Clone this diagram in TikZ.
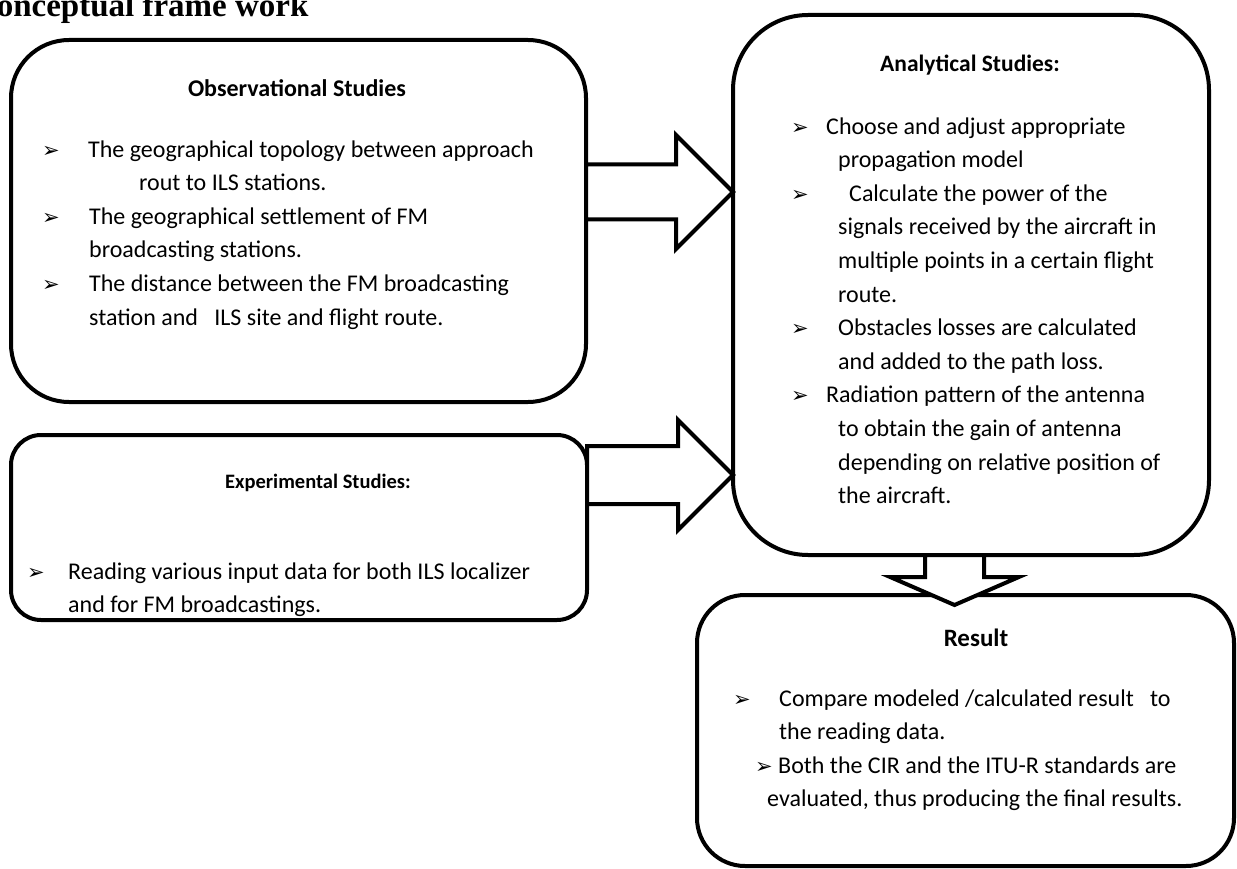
\documentclass[tikz,border=0pt]{standalone}
\usepackage{fontspec}
\setmainfont{Carlito}
\newfontfamily\headfont{Liberation Serif}
\newfontfamily\symfont{DejaVu Sans}
\usetikzlibrary{shapes.arrows,calc,positioning}
\newcommand\itm[1]{\makebox[#1][l]{\symfont\fontsize{21}{21}\selectfont ➢}}

\begin{document}
\begin{tikzpicture}[x=1pt,y=-1pt,
        panel/.style={draw,line width=4pt,inner sep=0pt,outer sep=0pt},
        heading/.style={font=\bfseries\fontsize{#1}{#1}\selectfont},
        list/.style={anchor=base west,align=left,inner sep=0pt,
                     font=\fontsize{24}{33.6}\selectfont},
        blockarr/.style={single arrow,draw,fill=white,line width=4pt,
                         inner xsep=0pt,outer sep=0pt,single arrow head indent=0pt}]
  \useasboundingbox (0,0) rectangle (1237,869);
  \node[anchor=base east,font=\headfont\bfseries\fontsize{33}{33}\selectfont] (title) at (312,17) {Conceptual frame work};
  \node[panel,minimum width=575pt,minimum height=362pt,rounded corners=58pt] (obs) at (298.5,221) {};
  \node[panel,minimum width=576pt,minimum height=185pt,rounded corners=30pt] (exp) at (299,527.5) {};
  \node[panel,minimum width=476pt,minimum height=540pt,rounded corners=75pt] (ana) at (971,285) {};
  \node[panel,minimum width=537pt,minimum height=271pt,rounded corners=48pt] (res) at (965.5,730.5) {};

  \node[heading=24] (obsT) at (297,88) {Observational Studies};
  \node[list] (obsL) at (42,325) {\itm{46pt}The geographical topology between approach\\
      \hspace*{97pt}rout to ILS stations.\\
      \itm{47pt}The geographical settlement of FM\\
      \hspace*{47pt}broadcasting stations.\\
      \itm{47pt}The distance between the FM broadcasting\\
      \hspace*{47pt}station and\ \ \ ILS site and flight route.};

  \node[heading=20.5] (expT) at (318,483) {Experimental Studies:};
  \node[list] (expL) at (27,612.6) {\itm{41pt}Reading various input data for both ILS localizer\\
      \hspace*{41pt}and for FM broadcastings.};

  \node[heading=23.5] (anaT) at (970,65) {Analytical Studies:};
  \node[list] (anaL) at (791,503.6) {\itm{35pt}Choose and adjust appropriate\\
      \hspace*{47pt}propagation model\\
      \itm{58pt}Calculate the power of the\\
      \hspace*{47pt}signals received by the aircraft in\\
      \hspace*{47pt}multiple points in a certain flight\\
      \hspace*{47pt}route.\\
      \itm{47pt}Obstacles losses are calculated\\
      \hspace*{47pt}and added to the path loss.\\
      \itm{35pt}Radiation pattern of the antenna\\
      \hspace*{47pt}to obtain the gain of antenna\\
      \hspace*{47pt}depending on relative position of\\
      \hspace*{47pt}the aircraft.};

  \node[heading=25] (resT) at (976,638) {Result};
  \node[list] (resL) at (733,806.8) {\itm{46pt}Compare modeled /calculated result\ \ \ to\\
      \hspace*{46pt}the reading data.\\
      \hspace*{22pt}\itm{23pt}Both the CIR and the ITU-R standards are\\
      \hspace*{34pt}evaluated, thus producing the final results.};

  \node[blockarr,inner ysep=25.5pt,single arrow head extend=29.5pt,minimum height=147pt,
        anchor=tail] (obs2ana) at ($(obs.east)+(0,-29)$) {};
  \node[blockarr,inner ysep=27pt,single arrow head extend=26pt,minimum height=146pt,
        anchor=tail] (exp2ana) at ($(exp.east)+(0,-52.5)$) {};
  \node[blockarr,rotate=-90,inner ysep=27.5pt,single arrow head extend=34.5pt,
        single arrow tip angle=133,minimum height=50pt,anchor=tail] (ana2res) at ($(ana.south)+(-16.5,0)$) {};
\end{tikzpicture}
\end{document}
